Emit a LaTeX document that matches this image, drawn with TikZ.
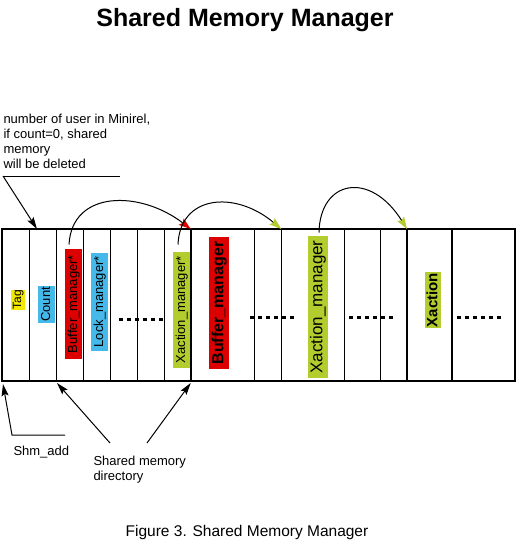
\documentclass[tikz,border=0pt]{standalone}
\usepackage{fontspec}
\setmainfont{Liberation Sans}
\usepackage{xcolor}
\usepackage{tikz}
\usetikzlibrary{positioning, arrows.meta}
\definecolor{memred}{RGB}{221,0,0}
\definecolor{memcyan}{RGB}{70,185,235}
\definecolor{memyellow}{RGB}{242,232,0}
\definecolor{memgreen}{RGB}{178,205,45}
\newcommand{\bufcolor}{memred}
\newcommand{\lockcolor}{memcyan}
\newcommand{\xactcolor}{memgreen}
\newcommand{\tagcolor}{memyellow}
\tikzstyle{slot} = [rectangle, rotate=90, 
inner sep=0pt, 
minimum height=17pt, 
text height=9.5pt, text depth=2.5pt, 
text centered, 
font=\fontsize{13}{13}\selectfont]
\tikzstyle{bigslot} = [slot, 
minimum height=20pt, 
text height=12pt, text depth=3.5pt, 
font=\fontsize{16}{16}\selectfont\bfseries]
\tikzstyle{note} = [align=left, inner sep=0pt, 
font=\fontsize{13}{15}\selectfont]
\tikzstyle{arrow} = [-{Stealth[length=12pt,width=7pt,inset=2pt]}]
\tikzstyle{gap} = [line width=3pt, dash pattern=on 4pt off 4pt]

\begin{document}
\begin{tikzpicture}[x=1pt, y=-1pt, line width=1pt]
\useasboundingbox (0,0) rectangle (517,544);

%-----------title
\node (title) [anchor=base, font=\fontsize{25}{25}\selectfont\bfseries]
  at (245,26.7) {Shared Memory Manager};

%-----------the shared memory block
\draw[line width=2pt] (2,229) rectangle (515,381);
\foreach \x in {29.7, 56.3, 83.3, 110.3, 137.3, 164.7, 254, 281.3, 344.3, 380.3}
  \draw (\x,229) -- (\x,381);
\foreach \x in {190.7, 407, 452}
  \draw[line width=2pt] (\x,229) -- (\x,381);

%-----------the directory
\node (tag) [slot, fill=\tagcolor, minimum width=20pt, minimum height=14pt,
  text height=8.5pt, text depth=2.5pt, font=\fontsize{12}{12}\selectfont]
  at (18,299.5) {Tag};
\node (count) [slot, fill=\lockcolor, minimum width=37pt] at (46.5,304.3) {Count};
\node (bufp) [slot, fill=\bufcolor, minimum width=110pt] at (73.5,304) {Buffer\_manager*};
\node (lockp) [slot, fill=\lockcolor, minimum width=98pt] at (99.5,301.7) {Lock\_manager*};
\node (xactp) [slot, fill=\xactcolor, minimum width=116pt] at (181.5,309.7) {Xaction\_manager*};

%-----------the managers
\node (buf) [bigslot, fill=\bufcolor, minimum width=132pt] at (219,303) {Buffer\_manager};
\node (xact) [bigslot, fill=\xactcolor, minimum width=142pt,
  font=\fontsize{17}{17}\selectfont] at (318,307) {Xaction\_manager};
\node (xaction) [bigslot, fill=\xactcolor, minimum width=56pt, minimum height=16pt,
  text height=11pt, text depth=2.5pt, font=\fontsize{15}{15}\selectfont\bfseries]
  at (433,300) {Xaction};

%-----------unused slots
\draw[gap] (119,319) -- (163,319);
\draw[gap] (250,317) -- (294,317);
\draw[gap] (349,317) -- (393,317);
\draw[gap] (457,317) -- (501,317);

%-----------cell boundaries
\coordinate (cntmark) at (37,229);
\coordinate (bufmark) at (190.7,229);
\coordinate (xactmark) at (281.3,229);
\coordinate (xnmark) at (407,229);
\coordinate (base) at (3,384);
\coordinate (dirfirst) at (57,383);
\coordinate (dirlast) at (190.7,383);

%-----------pointers
\draw [-{Stealth[length=12pt,width=8pt,inset=2pt,color=memred]}]
  ([xshift=-4.5pt,yshift=4pt]bufp.east) .. controls (72,190) and (140,190) .. (bufmark);
\draw [-{Stealth[length=12pt,width=8pt,inset=2pt,color=memgreen]}]
  ([xshift=-3.5pt,yshift=6.7pt]xactp.east) .. controls (180,195) and (235,190) .. (xactmark);
\draw [-{Stealth[length=12pt,width=8pt,inset=2pt,color=memgreen]}]
  ([xshift=1pt,yshift=3pt]xact.east) .. controls (320,180) and (370,170) .. (xnmark);

%-----------count note
\node (cntnote) [note, anchor=north west] at (3,113.5)
  {number of user in Minirel,\\if count=0, shared\\memory\\will be deleted};
\coordinate (cntknee) at (3,176);
\coordinate (cntend) at (120,176);
\draw (cntend) -- (cntknee);
\draw [arrow] (cntknee) -- (cntmark);

%-----------shm_add note
\node (shmnote) [note, anchor=base west] at (13,455) {Shm\_add};
\coordinate (shmknee) at (12,435);
\coordinate (shmend) at (65,435);
\draw [arrow] (shmend) -- (shmknee) -- (base);

%-----------directory note
\node (dirnote) [note, anchor=north west] at (93,455.5) {Shared memory\\directory};
\coordinate (dirleft) at (110,443);
\coordinate (dirright) at (147,443);
\draw [arrow] (dirleft) -- (dirfirst);
\draw [arrow] (dirright) -- (dirlast);

%-----------caption
\node (caption) [anchor=base, font=\fontsize{15.5}{15.5}\selectfont]
  at (247,536.7) {Figure 3. Shared Memory Manager};

\end{tikzpicture}
\end{document}
